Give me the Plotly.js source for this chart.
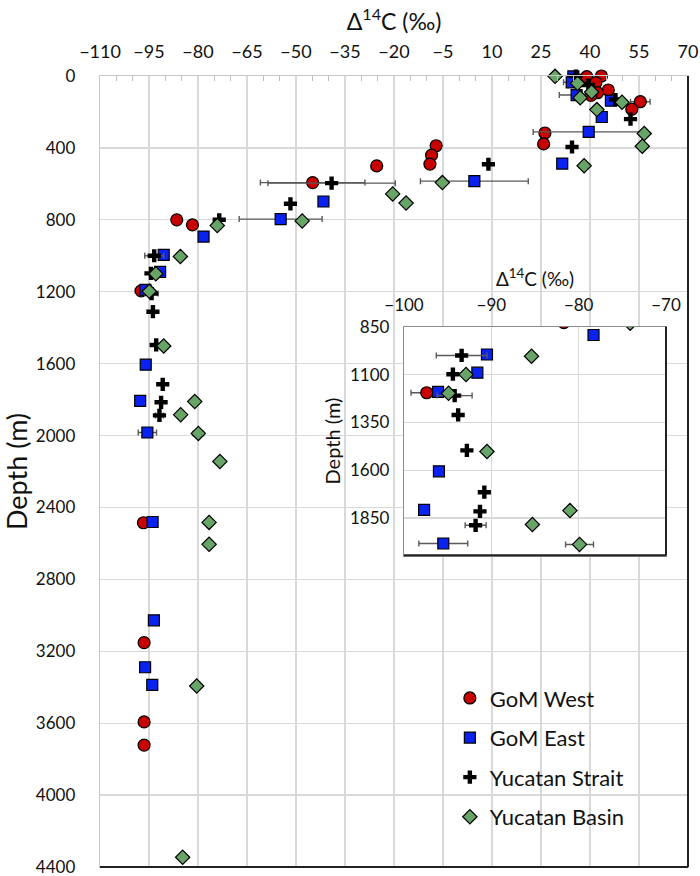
<!DOCTYPE html>
<html><head><meta charset="utf-8">
<script src="https://cdn.plot.ly/plotly-3.0.1.min.js"></script>
<style>html,body{margin:0;padding:0;background:#fff}#chart{width:700px;height:876px}</style>
</head><body><div id="chart"></div>
<script>
const seriesNames = ['GoM West', 'GoM East', 'Yucatan Strait', 'Yucatan Basin'];

const westD14C  = [39.0, 43.5, 41.8, 45.6, 42.3, 40.3, 55.4, 52.8, 26.2, 25.8, -7.1, -8.5, -9.0, -25.3, -44.9, -86.5, -81.7, -97.4, -96.7, -96.5, -96.5, -96.5];
const westDepth = [4, 0, 37, 78, 93, 108, 143, 185, 317, 378, 388, 440, 490, 500, 593, 800, 828, 1195, 2485, 3152, 3593, 3722];
const westErr   = [null, null, null, null, null, null, 3, null, null, null, 1.5, null, null, null, 16, null, null, 1.8, null, null, 1.5, null];

const eastD14C  = [34.9, 34.4, 35.9, 46.4, 43.6, 39.6, 31.5, 4.6, -41.6, -54.7, -78.3, -90.5, -91.6, -96.1, -96.0, -97.7, -95.5, -93.9, -93.5, -96.2, -94.0];
const eastDepth = [2, 35, 106, 137, 228, 311, 487, 585, 698, 796, 893, 995, 1090, 1190, 1606, 1807, 1983, 2481, 3028, 3289, 3387];
const eastErr   = [null, 2.5, 5.3, null, null, 17, null, 16.5, null, 12.7, null, null, null, null, null, null, 2.8, null, null, null, null];

const straitD14C  = [35.7, 39.5, 47.8, 52.4, 34.5, 8.9, -39.1, -51.7, -73.5, -93.4, -94.4, -94.2, -93.8, -92.8, -90.8, -91.3, -91.8];
const straitDepth = [0, 50, 131, 240, 395, 491, 596, 711, 800, 1000, 1098, 1210, 1311, 1496, 1715, 1815, 1888];
const straitErr   = [null, null, null, null, null, null, 19.5, null, null, 2.9, null, 2.0, null, null, null, null, 1.2];

const basinD14C  = [29.3, 36.2, 40.5, 37.0, 49.8, 42.1, 56.6, 56.0, 38.2, -5.2, -20.4, -16.3, -48.1, -74.1, -85.4, -92.9, -94.9, -90.5, -81.0, -85.3, -79.9, -73.3, -76.6, -76.6, -80.4, -84.7];
const basinDepth = [2, 41, 89, 121, 146, 187, 320, 391, 499, 593, 656, 707, 806, 832, 1004, 1100, 1198, 1502, 1811, 1884, 1988, 2144, 2483, 2605, 3393, 4346];
const basinErr   = [null, null, null, null, null, null, null, null, null, null, null, null, null, null, null, null, null, null, null, null, 1.6, null, null, null, null, null];

const mainXTitle = 'Δ<sup>14</sup>C (‰)';
const mainYTitle = 'Depth (m)';

const styles = [
  {symbol: 'circle', size: 12, color: '#c80000'},
  {symbol: 'square', size: 11, color: '#0a22f0'},
  {symbol: 'cross', size: 11, color: '#000000'},
  {symbol: 'diamond', size: 11, color: '#68a468'}
];
const xs = [westD14C, eastD14C, straitD14C, basinD14C];
const ys = [westDepth, eastDepth, straitDepth, basinDepth];
const es = [westErr, eastErr, straitErr, basinErr];

const traces = [];
[['x', 'y', true, false], ['x2', 'y2', false, true]].forEach(([xa, ya, leg, clip]) => {
  for (let i = 0; i < 4; i++) {
    const st = styles[i];
    traces.push({
      type: 'scatter', mode: 'markers', name: seriesNames[i],
      x: xs[i], y: ys[i], xaxis: xa, yaxis: ya,
      showlegend: leg, legendgroup: 'g' + i, cliponaxis: clip,
      marker: {symbol: st.symbol, size: st.size, color: st.color,
               line: {color: '#000', width: st.symbol === 'cross' ? 0 : 1.2}},
      error_x: {type: 'data', array: es[i], visible: true, color: '#5a5a5a', thickness: 1.4, width: 3},
      hoverinfo: 'x+y'
    });
  }
});

const font = 'Lato, "Open Sans", sans-serif';
const grid = '#d9d9d9';
const layout = {
  width: 700, height: 876,
  margin: {l: 100, r: 12, t: 76, b: 9},
  paper_bgcolor: '#fff', plot_bgcolor: '#fff',
  font: {family: font, color: '#111', size: 18},
  showlegend: true,
  legend: {x: 0.595, xanchor: 'left', y: 0.24, yanchor: 'top', bgcolor: 'rgba(0,0,0,0)',
           font: {size: 22, family: font}, traceorder: 'grouped', tracegroupgap: 8},
  xaxis: {domain: [0, 1], anchor: 'y', side: 'top', range: [-110, 70], tick0: -110, dtick: 15,
          showgrid: true, gridcolor: grid, gridwidth: 1.3, zeroline: false,
          showline: true, linecolor: '#c8c8c8', linewidth: 1.3, mirror: true, ticks: '',
          ticklabelstandoff: 10, tickfont: {size: 18}, ticklabeloverflow: 'allow',
          minor: {tick0: -110, dtick: 5, ticks: 'inside', ticklen: 5, tickcolor: '#bdbdbd', tickwidth: 1, showgrid: false},
          title: {text: mainXTitle, font: {size: 23}, standoff: 2}},
  yaxis: {domain: [0, 1], anchor: 'x', range: [4400, 0], tick0: 0, dtick: 400,
          showgrid: true, gridcolor: grid, gridwidth: 1.3, zeroline: false,
          showline: true, linecolor: '#c8c8c8', linewidth: 1.3, mirror: true, ticks: '',
          ticklabelstandoff: 20, tickfont: {size: 17}, ticklabeloverflow: 'allow',
          title: {text: mainYTitle, font: {size: 27}, standoff: 6}},
  xaxis2: {domain: [0.517, 0.9626], anchor: 'y2', side: 'top', range: [-100, -70], tick0: -100, dtick: 10,
           showgrid: true, gridcolor: grid, gridwidth: 1.3, zeroline: false,
           showline: true, linecolor: '#8c8c8c', linewidth: 1.2, mirror: true, ticks: '',
           ticklabelstandoff: 8, tickfont: {size: 17}, ticklabeloverflow: 'allow',
           title: {text: mainXTitle, font: {size: 19}, standoff: 2}},
  yaxis2: {domain: [0.394, 0.683], anchor: 'x2', range: [2045, 850], tick0: 850, dtick: 250,
           showgrid: true, gridcolor: grid, gridwidth: 1.3, zeroline: false,
           showline: true, linecolor: '#8c8c8c', linewidth: 1.2, mirror: true, ticks: '',
           ticklabelstandoff: 10, tickfont: {size: 17}, ticklabeloverflow: 'allow',
           title: {text: mainYTitle, font: {size: 20}, standoff: 4}},
  shapes: [
    {type: 'line', xref: 'x domain', yref: 'y domain', x0: 1, x1: 1, y0: 0, y1: 1, line: {color: '#222', width: 2}},
    {type: 'line', xref: 'x domain', yref: 'y domain', x0: 0, x1: 1, y0: 0, y1: 0, line: {color: '#222', width: 2}},
    {type: 'line', xref: 'x2 domain', yref: 'y2 domain', x0: 1, x1: 1, y0: 0, y1: 1, line: {color: '#222', width: 2}},
    {type: 'line', xref: 'x2 domain', yref: 'y2 domain', x0: 0, x1: 1, y0: 0, y1: 0, line: {color: '#222', width: 2}}
  ]
};
Plotly.newPlot('chart', traces, layout, {staticPlot: true, displayModeBar: false});
</script></body></html>
